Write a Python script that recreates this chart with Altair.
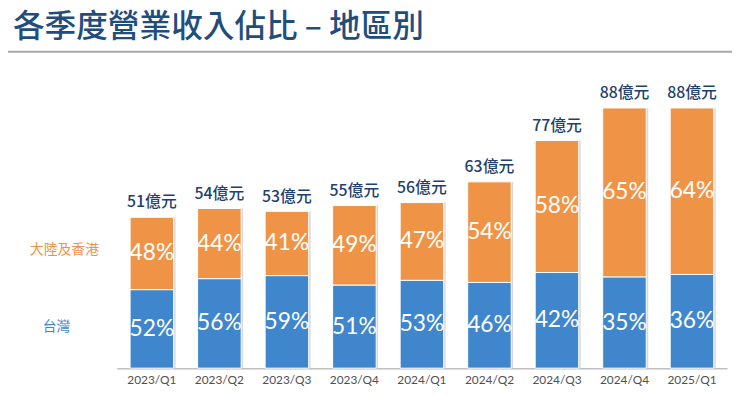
import altair as alt
import pandas as pd

quarters = ["2023/Q1", "2023/Q2", "2023/Q3", "2023/Q4", "2024/Q1",
            "2024/Q2", "2024/Q3", "2024/Q4", "2025/Q1"]
totals = [51, 54, 53, 55, 56, 63, 77, 88, 88]          # 億元
taiwan_pct = [52, 56, 59, 51, 53, 46, 42, 35, 36]
china_hk_pct = [48, 44, 41, 49, 47, 54, 58, 65, 64]

title_text = "各季度營業收入佔比 – 地區別"
series_names = ["大陸及香港", "台灣"]

BLUE = "#3f86cc"
ORANGE = "#ef9446"
NAVY = "#1f3f6e"
CJK = "Noto Sans CJK TC"
NUM = "Lato"

df = pd.DataFrame({
    "quarter": quarters,
    "total": totals,
    "tw_pct": taiwan_pct,
    "cn_pct": china_hk_pct,
})
df["tw_val"] = df["total"] * df["tw_pct"] / 100.0
df["tw_mid"] = df["tw_val"] / 2
df["cn_mid"] = (df["tw_val"] + df["total"]) / 2
df["tw_lbl"] = df["tw_pct"].astype(str) + "%"
df["cn_lbl"] = df["cn_pct"].astype(str) + "%"
df["tot_lbl"] = df["total"].astype(str) + "億元"
df["zero"] = 0

x_enc = alt.X(
    "quarter:N", sort=quarters,
    scale=alt.Scale(paddingInner=0.355, paddingOuter=0.197),
    axis=alt.Axis(title=None, labelAngle=0, ticks=False, domainColor="#c0c0c0",
                  domainWidth=1.5, labelFont=NUM, labelFontSize=12,
                  labelColor="#505050", labelPadding=7),
)
y_scale = alt.Scale(domain=[0, 97], nice=False, zero=True)

base = alt.Chart(df)

shadow = base.mark_bar(color="#cfcfcf", xOffset=2, opacity=0.8).encode(
    x=x_enc,
    y=alt.Y("total:Q", scale=y_scale, axis=None),
    y2="zero:Q",
)

blue = base.mark_bar(color=BLUE, stroke="white", strokeWidth=1).encode(
    x=x_enc,
    y=alt.Y("tw_val:Q", scale=y_scale, axis=None),
    y2="zero:Q",
    tooltip=["quarter:N", "tw_pct:Q"],
)

orange = base.mark_bar(color=ORANGE, stroke="white", strokeWidth=1).encode(
    x=x_enc,
    y=alt.Y("total:Q", scale=y_scale, axis=None),
    y2="tw_val:Q",
    tooltip=["quarter:N", "cn_pct:Q"],
)

tw_txt = base.mark_text(color="white", font=NUM, fontSize=23, baseline="middle").encode(
    x=x_enc, y=alt.Y("tw_mid:Q", scale=y_scale, axis=None), text="tw_lbl:N")
cn_txt = base.mark_text(color="white", font=NUM, fontSize=23, baseline="middle").encode(
    x=x_enc, y=alt.Y("cn_mid:Q", scale=y_scale, axis=None), text="cn_lbl:N")
tot_txt = base.mark_text(color=NAVY, font=CJK, fontSize=16, fontWeight=500,
                         baseline="bottom", dy=-7).encode(
    x=x_enc, y=alt.Y("total:Q", scale=y_scale, axis=None), text="tot_lbl:N")

title = alt.Chart(pd.DataFrame({"t": [title_text]})).mark_text(
    align="left", baseline="middle", font=CJK, fontSize=32, fontWeight=500, color="#1f4e7c"
).encode(x=alt.value(-105), y=alt.value(-55), text="t:N")

rule = alt.Chart(pd.DataFrame({"a": [0]})).mark_rule(color="#a8a8a8", strokeWidth=2).encode(
    x=alt.value(-113), x2=alt.value(622), y=alt.value(-30))

leg_cn = alt.Chart(pd.DataFrame({"t": [series_names[0]]})).mark_text(
    font=CJK, fontSize=14, color=ORANGE, baseline="middle"
).encode(x=alt.value(-53), y=alt.value(171), text="t:N")
leg_tw = alt.Chart(pd.DataFrame({"t": [series_names[1]]})).mark_text(
    font=CJK, fontSize=14, color=BLUE, baseline="middle"
).encode(x=alt.value(-61), y=alt.value(248), text="t:N")

chart = alt.layer(
    shadow, orange, blue, cn_txt, tw_txt, tot_txt, title, rule, leg_cn, leg_tw
).properties(
    width=617, height=290,
    autosize=alt.AutoSizeParams(type="none"),
    padding={"left": 110, "top": 72, "right": 5, "bottom": 25},
).configure_view(stroke=None).configure_axis(grid=False)

chart.save("out.html", embed_options={"renderer": "svg", "actions": False})
